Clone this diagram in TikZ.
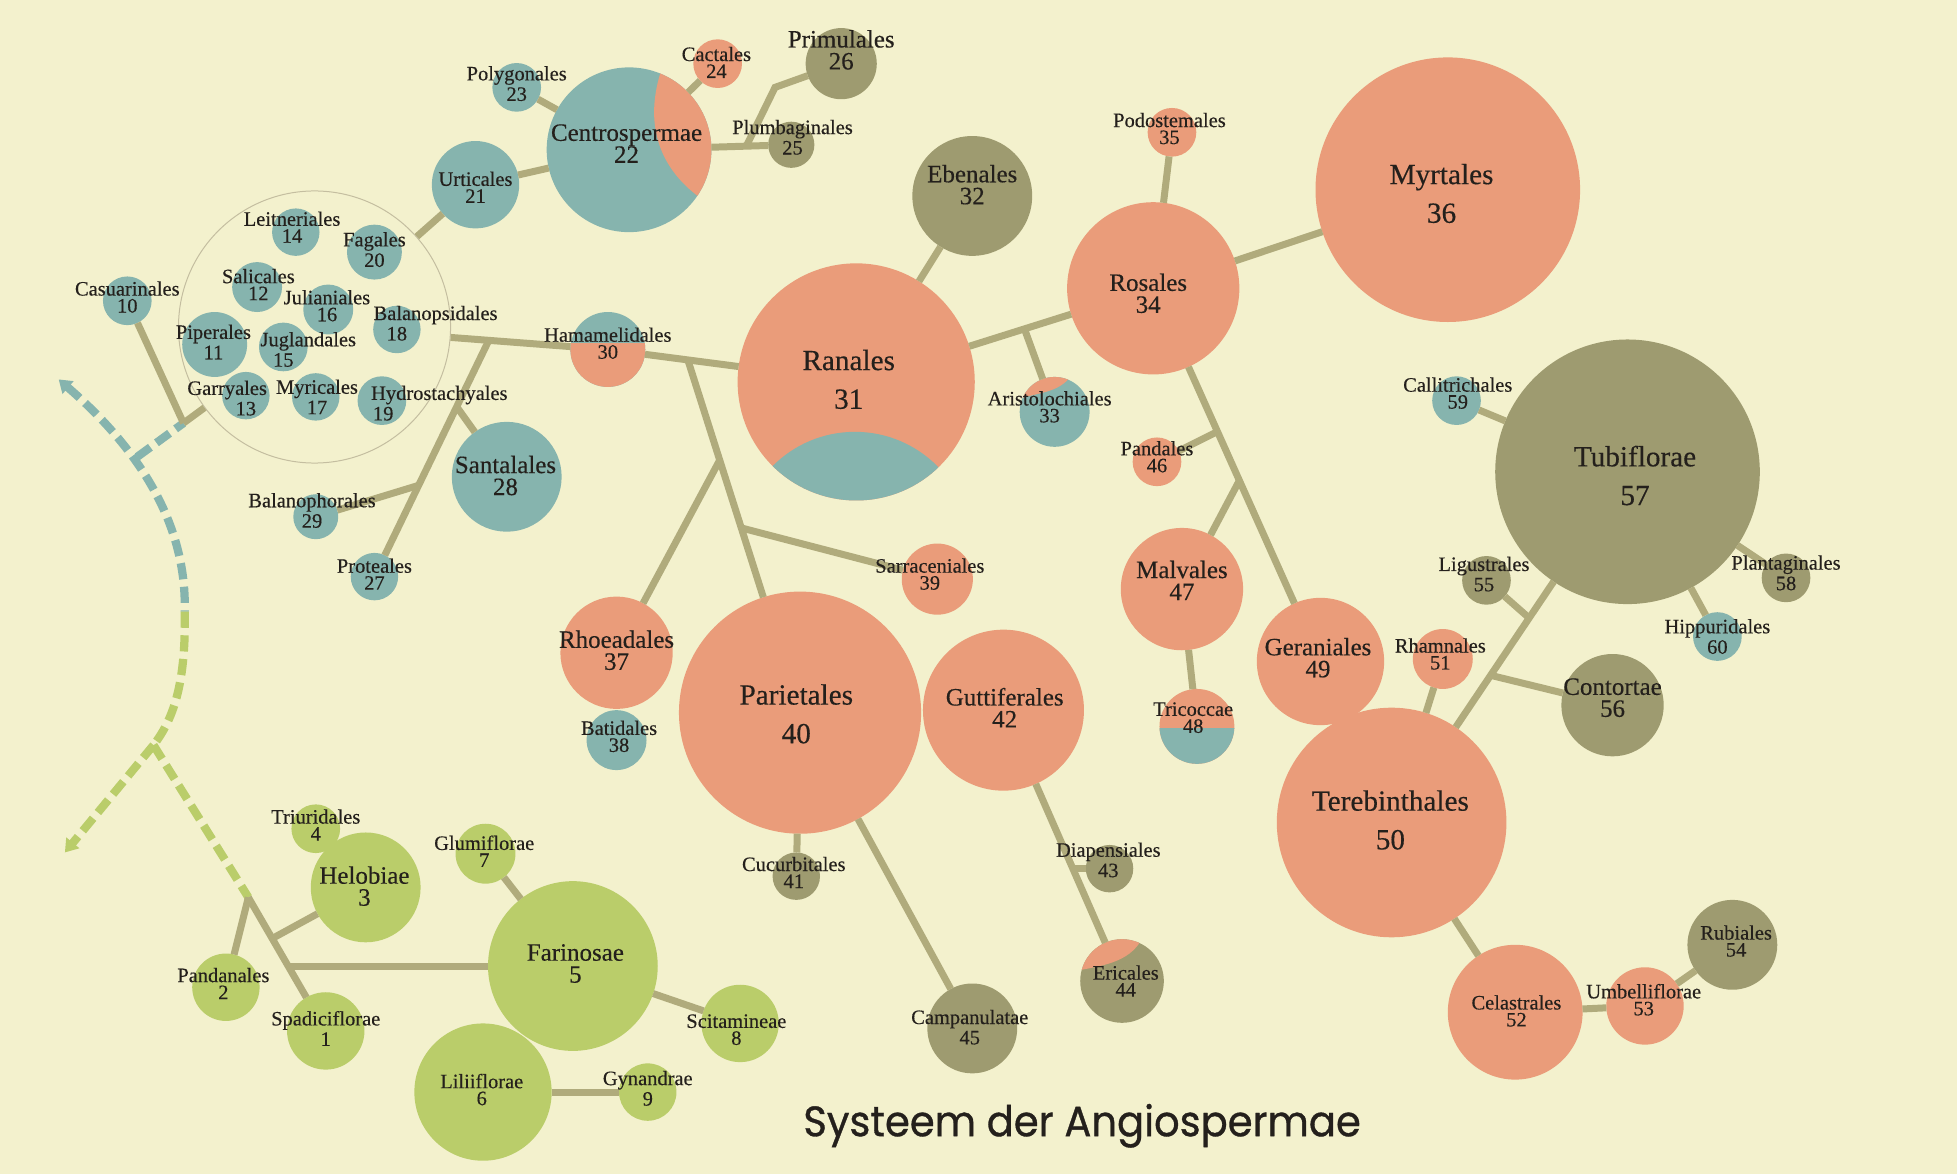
\documentclass[tikz,border=0pt]{standalone}
\usepackage{fontspec}
\setmainfont{Liberation Serif}[FakeBold=0.35]
\newfontfamily\titlefont{Poppins}[FakeBold=0.8]
\usetikzlibrary{arrows.meta}

\definecolor{paper}{RGB}{243,241,205}
\definecolor{rose}{RGB}{234,156,122}
\definecolor{sea}{RGB}{134,180,174}
\definecolor{olive}{RGB}{158,155,112}
\definecolor{leaf}{RGB}{186,205,106}
\definecolor{stemc}{RGB}{176,171,124}
\definecolor{ring}{RGB}{196,190,160}
\definecolor{ink}{RGB}{36,32,28}

\begin{document}
\begin{tikzpicture}[x=0.5pt,y=-0.5pt]
  \tikzset{OrderStyle/.style = {shape        = circle,
                                inner sep    = 0pt,
                                outer sep    = 0pt,
                                minimum size = #1pt}}
  \tikzset{StemStyle/.style   = {draw=stemc, line width=2.8pt}}
  \tikzset{TrailBlue/.style   = {draw=sea, line width=3.3pt,
                                 dash pattern=on 6.5pt off 3pt}}
  \tikzset{TrailGreen/.style  = {draw=leaf, line width=3.3pt,
                                 dash pattern=on 6.5pt off 3pt}}
  \tikzset{SmallText/.style   = {align=center, inner sep=0pt, text=ink,
                                 font=\fontsize{8.2}{6.8}\selectfont}}
  \tikzset{MidText/.style     = {align=center, inner sep=0pt, text=ink,
                                 font=\fontsize{10}{8.8}\selectfont}}
  \tikzset{BigText/.style     = {align=center, inner sep=0pt, text=ink,
                                 font=\fontsize{11.7}{15.5}\selectfont}}

\useasboundingbox (0,0) rectangle (1568,941);
\fill[paper] (0,0) rectangle (1568,941);

% Monocotyledonen
\node[OrderStyle=31,   fill=leaf] (O1) at (261,826) {};
\node[OrderStyle=27,   fill=leaf] (O2) at (181,791) {};
\node[OrderStyle=19.5, fill=leaf] (O4) at (253,664) {};
\node[OrderStyle=44,   fill=leaf] (O3) at (293,711) {};
\node[OrderStyle=68,   fill=leaf] (O5) at (459,774) {};
\node[OrderStyle=55,   fill=leaf] (O6) at (387,875) {};
\node[OrderStyle=24,   fill=leaf] (O7) at (389,684) {};
\node[OrderStyle=31,   fill=leaf] (O8) at (593,820) {};
\node[OrderStyle=23,   fill=leaf] (O9) at (519,875) {};

% Dicotyledonen
\node[shape=circle, draw=ring, line width=0.4pt, minimum size=109pt] (CL) at (252,262) {};
\node[OrderStyle=19.5, fill=sea] (O10) at (102,241) {};
\node[OrderStyle=26,   fill=sea] (O11) at (172,276) {};
\node[OrderStyle=20,   fill=sea] (O12) at (206,230) {};
\node[OrderStyle=19,   fill=sea] (O13) at (197,317) {};
\node[OrderStyle=19,   fill=sea] (O14) at (237,186) {};
\node[OrderStyle=19.5, fill=sea] (O15) at (227,278) {};
\node[OrderStyle=20,   fill=sea] (O16) at (263,248) {};
\node[OrderStyle=19,   fill=sea] (O17) at (253,318) {};
\node[OrderStyle=19,   fill=sea] (O18) at (318,264) {};
\node[OrderStyle=19.5, fill=sea] (O19) at (306,321) {};
\node[OrderStyle=22,   fill=sea] (O20) at (300,202) {};
\node[OrderStyle=35,   fill=sea] (O21) at (381,148) {};
\node[OrderStyle=66,   fill=sea] (O22) at (504,120) {};
\node[OrderStyle=19.5, fill=sea] (O23) at (414,70) {};
\node[OrderStyle=19.5, fill=rose] (O24) at (575,51) {};
\node[OrderStyle=18.5, fill=olive] (O25) at (634,116) {};
\node[OrderStyle=28.5, fill=olive] (O26) at (674,51) {};
\node[OrderStyle=19,   fill=sea] (O27) at (300,462) {};
\node[OrderStyle=44,   fill=sea] (O28) at (406,382) {};
\node[OrderStyle=18,   fill=sea] (O29) at (253,414) {};
\node[OrderStyle=30,   fill=sea] (O30) at (487,280) {};
\node[OrderStyle=95,   fill=rose] (O31) at (686,306) {};
\node[OrderStyle=48,   fill=olive] (O32) at (779,157) {};
\node[OrderStyle=28,   fill=sea] (O33) at (845,330) {};
\node[OrderStyle=69,   fill=rose] (O34) at (924,231) {};
\node[OrderStyle=19.5, fill=rose] (O35) at (939,106) {};
\node[OrderStyle=106,  fill=rose] (O36) at (1160,152) {};
\node[OrderStyle=45,   fill=rose] (O37) at (494,523) {};
\node[OrderStyle=24,   fill=sea] (O38) at (494,593) {};
\node[OrderStyle=28.5, fill=rose] (O39) at (751,464) {};
\node[OrderStyle=97,   fill=rose] (O40) at (641,571) {};
\node[OrderStyle=19,   fill=olive] (O41) at (638,702) {};
\node[OrderStyle=64.5, fill=rose] (O42) at (804,569) {};
\node[OrderStyle=19,   fill=olive] (O43) at (889,696) {};
\node[OrderStyle=33.5, fill=olive] (O44) at (899,786) {};
\node[OrderStyle=36,   fill=olive] (O45) at (779,824) {};
\node[OrderStyle=19.5, fill=rose] (O46) at (927,370) {};
\node[OrderStyle=49,   fill=rose] (O47) at (947,472) {};
\node[OrderStyle=30,   fill=rose] (O48) at (959,582) {};
\node[OrderStyle=51,   fill=rose] (O49) at (1058,530) {};
\node[OrderStyle=92,   fill=rose] (O50) at (1115,659) {};
\node[OrderStyle=24,   fill=rose] (O51) at (1156,528) {};
\node[OrderStyle=54,   fill=rose] (O52) at (1214,811) {};
\node[OrderStyle=31,   fill=rose] (O53) at (1318,806) {};
\node[OrderStyle=36,   fill=olive] (O54) at (1388,757) {};
\node[OrderStyle=19.5, fill=olive] (O55) at (1191,465) {};
\node[OrderStyle=41,   fill=olive] (O56) at (1292,565) {};
\node[OrderStyle=106,  fill=olive] (O57) at (1304,378) {};
\node[OrderStyle=19.5, fill=olive] (O58) at (1431,463) {};
\node[OrderStyle=19.5, fill=sea] (O59) at (1167,321) {};
\node[OrderStyle=19.5, fill=sea] (O60) at (1376,510) {};

% two-coloured orders
\begin{scope}
  \clip (O22.center) circle[radius=66];
  \fill[rose] (532,50) .. controls (515,95) and (525,135) .. (566,162) -- (600,162) -- (600,50) -- cycle;
\end{scope}
\begin{scope}
  \clip (O30.center) circle[radius=30];
  \fill[rose] (450,275) rectangle (525,315);
\end{scope}
\begin{scope}
  \clip (O31.center) circle[radius=95];
  \fill[sea] (685,439) circle[radius=93];
\end{scope}
\begin{scope}
  \clip (O33.center) circle[radius=28];
  \fill[rose] (812,321) .. controls (835,313) and (850,316) .. (862,296) -- (862,290) -- (812,290) -- cycle;
\end{scope}
\begin{scope}
  \clip (O44.center) circle[radius=33.5];
  \fill[rose] (862,778) .. controls (880,774) and (905,772) .. (915,752) -- (915,745) -- (862,745) -- cycle;
\end{scope}
\begin{scope}
  \clip (O48.center) circle[radius=30];
  \fill[sea] (925,583) rectangle (995,615);
\end{scope}

% junctions
\coordinate (D0) at (47,304);
\coordinate (D1) at (148,490);
\coordinate (D2) at (123,597);
\coordinate (D3) at (52,683);
\coordinate (D4) at (110,366);
\coordinate (G1) at (199,719);
\coordinate (G2) at (218,752);
\coordinate (G3) at (231,774);
\coordinate (J1) at (147,339);
\coordinate (J3) at (392,272);
\coordinate (J4) at (598,117);
\coordinate (J4b) at (621,70);
\coordinate (J5) at (551,288);
\coordinate (J6) at (577,368);
\coordinate (J7) at (594,423);
\coordinate (J8) at (366,326);
\coordinate (J9) at (335,389);
\coordinate (J10) at (821,264);
\coordinate (J11) at (975,346);
\coordinate (J12) at (993,385);
\coordinate (J13) at (1225,495);
\coordinate (J14) at (1194,541);
\coordinate (J15) at (860,696);

% dashed trails
\draw[TrailBlue, {Triangle[length=5pt,width=6.5pt]}-] (D0) .. controls (100,350) and (150,410) .. (D1);
\draw[TrailBlue] (D4) -- (J1);
\draw[TrailGreen] (D1) .. controls (149,545) and (140,575) .. (D2);
\draw[TrailGreen, -{Triangle[length=5pt,width=6.5pt]}] (D2) -- (D3);
\draw[TrailGreen] (D2) -- (G1);

\draw[StemStyle] (G1) -- (O1);
\draw[StemStyle] (G1) -- (O2);
\draw[StemStyle] (G2) -- (O3);
\draw[StemStyle] (G3) -- (O5);
\draw[StemStyle] (O7) -- (O5);
\draw[StemStyle] (O5) -- (O8);
\draw[StemStyle] (O6) -- (O9);

\draw[StemStyle] (O10) -- (J1);
\draw[StemStyle] (J1) -- (CL);
\draw[StemStyle] (CL) -- (O21);
\draw[StemStyle] (O21) -- (O22);
\draw[StemStyle] (O23) -- (O22);
\draw[StemStyle] (O24) -- (O22);
\draw[StemStyle] (O22) -- (O25);
\draw[StemStyle] (J4) -- (J4b) -- (O26);
\draw[StemStyle] (CL) -- (O30);
\draw[StemStyle] (O30) -- (O31);
\draw[StemStyle] (J3) -- (O27);
\draw[StemStyle] (J8) -- (O28);
\draw[StemStyle] (J9) -- (O29);
\draw[StemStyle] (J5) -- (O40);
\draw[StemStyle] (J6) -- (O37);
\draw[StemStyle] (J7) -- (O39);
\draw[StemStyle] (O40) -- (O41);
\draw[StemStyle] (O40) -- (O45);
\draw[StemStyle] (O42) -- (O44);
\draw[StemStyle] (J15) -- (O43);
\draw[StemStyle] (O31) -- (O32);
\draw[StemStyle] (O31) -- (O34);
\draw[StemStyle] (J10) -- (O33);
\draw[StemStyle] (O34) -- (O35);
\draw[StemStyle] (O34) -- (O36);
\draw[StemStyle] (O34) -- (O49);
\draw[StemStyle] (J11) -- (O46);
\draw[StemStyle] (J12) -- (O47);
\draw[StemStyle] (O47) -- (O48);
\draw[StemStyle] (O51) -- (O50);
\draw[StemStyle] (O50) -- (O57);
\draw[StemStyle] (J13) -- (O55);
\draw[StemStyle] (J14) -- (O56);
\draw[StemStyle] (O59) -- (O57);
\draw[StemStyle] (O57) -- (O58);
\draw[StemStyle] (O57) -- (O60);
\draw[StemStyle] (O50) -- (O52);
\draw[StemStyle] (O52) -- (O53);
\draw[StemStyle] (O53) -- (O54);

% names
\node[SmallText] (T1) at (261,824) {Spadiciflorae\\1};
\node[SmallText] (T2) at (179,788) {Pandanales\\2};
\node[MidText]   (T3) at (292,710) {Helobiae\\3};
\node[SmallText] (T4) at (253,661) {Triuridales\\4};
\node[MidText]   (T5) at (461,772) {Farinosae\\5};
\node[SmallText] (T6) at (386,873) {Liliiflorae\\6};
\node[SmallText] (T7) at (388,682) {Glumiflorae\\7};
\node[SmallText] (T8) at (590,825) {Scitamineae\\8};
\node[SmallText] (T9) at (519,872) {Gynandrae\\9};
\node[SmallText] (T10) at (102,238) {Casuarinales\\10};
\node[SmallText] (T11) at (171,274) {Piperales\\11};
\node[SmallText] (T12) at (207,228) {Salicales\\12};
\node[SmallText] (T13) at (182,319) {Garryales\\\hspace*{15pt}13};
\node[SmallText] (T14) at (234,182) {Leitneriales\\14};
\node[SmallText] (T15) at (247,280) {Juglandales\\\hspace*{-20pt}15};
\node[SmallText] (T16) at (262,245) {Julianiales\\16};
\node[SmallText] (T17) at (254,318) {Myricales\\17};
\node[SmallText] (T18) at (349,259) {Balanopsidales\\\hspace*{-31pt}18};
\node[SmallText] (T19) at (352,323) {Hydrostachyales\\\hspace*{-45pt}19};
\node[SmallText] (T20) at (300,200) {Fagales\\20};
\node[SmallText] (T21) at (381,150) {Urticales\\21};
\node[MidText]   (T22) at (502,115) {Centrospermae\\22};
\node[SmallText] (T23) at (414,67) {Polygonales\\23};
\node[SmallText] (T24) at (574,50) {Cactales\\24};
\node[SmallText] (T25) at (635,110) {Plumbaginales\\25};
\node[MidText]   (T26) at (674,40) {Primulales\\26};
\node[SmallText] (T27) at (300,460) {Proteales\\27};
\node[MidText]   (T28) at (405,381) {Santalales\\28};
\node[SmallText] (T29) at (250,409) {Balanophorales\\29};
\node[SmallText] (T30) at (487,275) {Hamamelidales\\30};
\node[BigText]   (T31) at (680,304) {Ranales\\31};
\node[MidText]   (T32) at (779,148) {Ebenales\\32};
\node[SmallText] (T33) at (841,326) {Aristolochiales\\33};
\node[MidText]   (T34) at (920,235) {Rosales\\34};
\node[SmallText] (T35) at (937,103) {Podostemales\\35};
\node[BigText]   (T36) at (1155,155) {Myrtales\\36};
\node[MidText]   (T37) at (494,521) {Rhoeadales\\37};
\node[SmallText] (T38) at (496,590) {Batidales\\38};
\node[SmallText] (T39) at (745,460) {Sarraceniales\\39};
\node[BigText]   (T40) at (638,572) {Parietales\\40};
\node[SmallText] (T41) at (636,699) {Cucurbitales\\41};
\node[MidText]   (T42) at (805,567) {Guttiferales\\42};
\node[SmallText] (T43) at (888,689) {Diapensiales\\43};
\node[SmallText] (T44) at (902,786) {Ericales\\44};
\node[SmallText] (T45) at (777,823) {Campanulatae\\45};
\node[SmallText] (T46) at (927,366) {Pandales\\46};
\node[MidText]   (T47) at (947,465) {Malvales\\47};
\node[SmallText] (T48) at (956,575) {Tricoccae\\48};
\node[MidText]   (T49) at (1056,527) {Geraniales\\49};
\node[BigText]   (T50) at (1114,657) {Terebinthales\\50};
\node[SmallText] (T51) at (1154,524) {Rhamnales\\51};
\node[SmallText] (T52) at (1215,810) {Celastrales\\52};
\node[SmallText] (T53) at (1317,801) {Umbelliflorae\\53};
\node[SmallText] (T54) at (1391,754) {Rubiales\\54};
\node[SmallText] (T55) at (1189,460) {Ligustrales\\55};
\node[MidText]   (T56) at (1292,559) {Contortae\\56};
\node[BigText]   (T57) at (1310,381) {Tubiflorae\\57};
\node[SmallText] (T58) at (1431,459) {Plantaginales\\58};
\node[SmallText] (T59) at (1168,315) {Callitrichales\\59};
\node[SmallText] (T60) at (1376,510) {Hippuridales\\60};

\node[text=ink, inner sep=0pt, font=\titlefont\fontsize{17}{20}\selectfont] (TITLE) at (867,902) {\scalebox{0.945}[1]{Systeem der Angiospermae}};

\end{tikzpicture}
\end{document}
